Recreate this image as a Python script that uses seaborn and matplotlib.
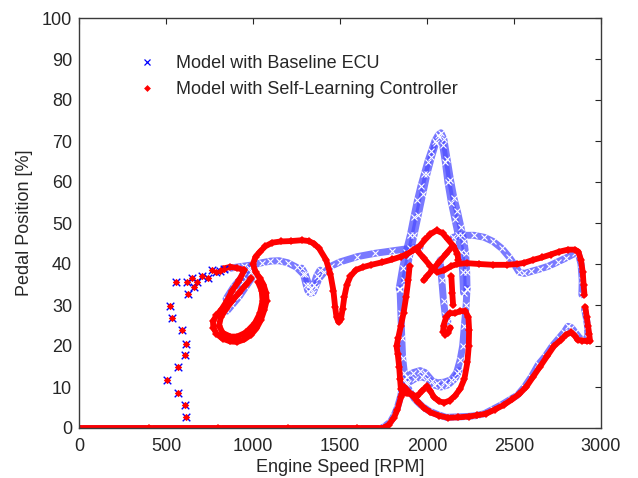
import matplotlib
matplotlib.use("Agg")
import matplotlib.pyplot as plt
from matplotlib.lines import Line2D
import seaborn as sns
import pandas as pd

# ---------------- data ----------------
# sparse launch points shared by both models
launch_rpm = [506, 525, 535, 560, 567, 567, 592, 612, 615, 612, 617, 621, 627, 652, 660,
              679, 708, 740, 765, 785, 810, 833]
launch_pedal = [11.7, 29.7, 26.9, 35.7, 14.8, 8.5, 23.8, 5.5, 20.6, 17.7, 2.6, 35.7, 32.8,
                36.7, 34.4, 35.7, 37.0, 36.6, 38.5, 38.1, 38.4, 38.9]

# Model with Baseline ECU (blue)
b_idle_rpm = [0, 400, 800, 1200, 1600, 1740]
b_idle_pedal = [0, 0, 0, 0, 0, 0]
b_rise_rpm = [1740, 1760, 1790, 1810, 1830, 1850, 1865]
b_rise_pedal = [0, 0.5, 1.5, 3, 5, 8, 12]
b_swirl_rpm = [830, 860, 900, 940, 990]
b_swirl_pedal = [28.5, 31, 33.5, 35.5, 38]
b_swirl2_rpm = [845, 890, 940, 975]
b_swirl2_pedal = [31.5, 34.5, 37, 39]
b_swirl3_rpm = [850, 880, 920, 960, 1000]
b_swirl3_pedal = [28.5, 30, 32, 34.5, 37]
b_cruise_rpm = [850, 900, 950, 1000, 1050, 1100, 1150, 1200, 1250, 1290, 1305, 1315, 1330,
                1345, 1360, 1380, 1410, 1450, 1500, 1600, 1700, 1800, 1900, 1960]
b_cruise_pedal = [38.8, 39.2, 39.5, 39.8, 40.3, 40.7, 40.8, 40.3, 39.2, 37.5, 35, 33.5, 32.8,
                  33, 34.5, 36.5, 38, 39.5, 40.5, 41.8, 42.6, 43.2, 43.8, 44]
b_dip_rpm = [1280, 1300, 1320, 1335, 1350, 1365, 1385]
b_dip_pedal = [39, 37.5, 35, 34, 35, 37, 38.5]
b_spike_rpm = [1840, 1860, 1880, 1904, 1925, 1945, 1965, 1985, 2005, 2025, 2045, 2065, 2080,
               2097, 2116, 2135, 2155, 2174, 2195, 2212, 2222, 2228, 2230]
b_spike_pedal = [34, 39, 43, 47, 51.5, 55.5, 59, 62, 65, 67.5, 70, 71.5, 72,
                 70.4, 65.5, 60.5, 56, 53, 49, 45.5, 42.6, 38, 34]
b_spike2_rpm = [1870, 1900, 1925, 1950, 1975, 2000, 2025, 2050, 2070, 2090, 2105, 2120, 2140,
                2160, 2180, 2195, 2205, 2210]
b_spike2_pedal = [36, 42, 47, 52, 57, 62, 66, 69.5, 71, 69, 65, 60, 55,
                  51, 47, 43, 38, 33]
b_box_rpm = [1845, 1850, 1855, 1860, 1870, 1885, 1920, 1960, 1990, 2030, 2060, 2100, 2140,
             2170, 2190, 2205, 2215, 2225, 2230]
b_box_pedal = [34, 28, 22, 17, 13.5, 12.5, 13.5, 14, 13.5, 11.5, 11, 11.2, 11.8,
               13.5, 16.5, 20, 25, 30, 34]
b_box2_rpm = [1890, 1930, 1970, 2000, 2040, 2080, 2120, 2160, 2185]
b_box2_pedal = [11, 12, 12.5, 12, 10.5, 10, 10.5, 12, 14]
b_inner_rpm = [2075, 2085, 2095, 2105, 2120]
b_inner_pedal = [41, 36, 31, 27.5, 26]
b_hump_rpm = [2150, 2200, 2270, 2330, 2380, 2430, 2470, 2500, 2530, 2560, 2600, 2650, 2700,
              2750, 2800, 2850, 2870, 2885, 2892, 2890]
b_hump_pedal = [46.5, 47, 47, 46.5, 45.5, 43.8, 41.8, 40, 38, 37.7, 38.2, 38.8, 39.5,
                40.5, 41.5, 42.6, 42.5, 40, 36, 32.5]
b_return_rpm = [2905, 2915, 2922, 2925, 2905, 2880, 2850, 2830, 2810, 2790, 2760, 2720, 2680,
                2640, 2600, 2560, 2520, 2480, 2430, 2380, 2330, 2280, 2230, 2170, 2110, 2060,
                2010, 1970, 1930, 1900, 1880]
b_return_pedal = [29, 27, 25, 22, 21.5, 21.8, 23.4, 24.5, 24.8, 23.5, 22, 20, 17.5,
                  15.5, 12.5, 10, 8, 7, 5.7, 4.6, 3.5, 3, 2.8, 2.7, 2.6, 3.3,
                  4.2, 5.4, 7, 9, 11]

# Model with Self-Learning Controller (red)
r_idle_rpm = [0, 400, 800, 1200, 1600, 1750]
r_idle_pedal = [0, 0, 0, 0, 0, 0]
r_rise_rpm = [1750, 1780, 1810, 1830, 1850, 1865]
r_rise_pedal = [0, 0.8, 2.5, 4.5, 7.5, 10]
r_tie_rpm = [830, 870, 910, 950]
r_tie_pedal = [38.9, 39.3, 39, 38.5]
r_circle_rpm = [950, 920, 880, 850, 820, 790, 770, 772, 790, 825, 870, 910, 950, 990, 1020,
                1045, 1065, 1078, 1075, 1060, 1040, 1015, 1000, 1015, 1040, 1070, 1110, 1160,
                1220, 1280, 1320, 1350, 1380, 1420, 1445, 1462, 1472, 1480, 1492, 1505, 1515,
                1525, 1540, 1560, 1590, 1630, 1680, 1740, 1800, 1850, 1880]
r_circle_pedal = [38.5, 36, 33.5, 31, 29, 27.5, 26, 24.5, 23, 21.8, 21.1, 21, 21.6, 22.8, 24.3,
                  26.3, 28.8, 31, 33, 35, 36.5, 38, 40, 41.8, 43, 44.3, 45.2, 45.5,
                  45.6, 45.8, 45.6, 45, 43.8, 41, 37.5, 33.5, 29.5, 27, 25.8, 26.5, 29,
                  32, 35, 37, 38.5, 39.2, 39.8, 40.4, 41.1, 41.8, 42.3]
r_circle2_rpm = [990, 960, 920, 880, 845, 815, 805, 825, 870, 910, 960, 1010, 1040, 1055,
                 1050, 1030]
r_circle2_pedal = [36.5, 35, 33, 31, 29, 27, 25, 23.2, 22.3, 22.3, 23.3, 25.5, 28, 31,
                   33.5, 35.5]
r_peak_rpm = [1880, 1920, 1960, 1990, 2020, 2055, 2090, 2120, 2150, 2175, 2180]
r_peak_pedal = [42.3, 43.3, 44.5, 46, 47.3, 48.2, 47.5, 46, 44.5, 42.5, 41]
r_cross1_rpm = [1940, 1980, 2020, 2060, 2100, 2140, 2175, 2230, 2300, 2380, 2460, 2520, 2560,
                2610, 2660, 2710, 2760, 2810, 2850, 2870, 2885, 2895, 2900, 2905]
r_cross1_pedal = [43.5, 41.5, 39.5, 38, 38.5, 39.5, 40, 40.2, 40, 39.8, 39.8, 40, 40.3,
                  41, 41.6, 42.3, 43, 43.5, 43.5, 43, 41, 38, 35, 32.5]
r_cross2_rpm = [2150, 2110, 2070, 2030, 2000, 1980]
r_cross2_pedal = [44.5, 42.5, 40.5, 38.5, 37, 36]
r_left_rpm = [1900, 1892, 1880, 1865, 1850, 1835, 1825, 1832, 1840, 1845, 1850]
r_left_pedal = [39.5, 36, 32, 28, 25, 22, 20, 18, 15, 12, 9.5]
r_inner_rpm = [2140, 2145, 2150]
r_inner_pedal = [37, 33, 30]
r_hook_rpm = [1856, 1885, 1920, 1945, 1970, 2000, 2020, 2040, 2070, 2100, 2130, 2160, 2190,
              2215, 2232, 2240, 2242, 2238, 2220, 2190, 2160, 2130, 2110, 2095, 2093, 2105,
              2120, 2135]
r_hook_pedal = [8.3, 8.5, 8, 7.8, 9, 10.2, 9, 7.5, 6.5, 6.2, 6.7, 7.8, 9.5,
                12, 16, 20, 24, 27, 28.5, 28.5, 28, 28, 27, 25, 23.5, 22.8,
                23.2, 24.5]
r_return_rpm = [2910, 2918, 2925, 2932, 2937, 2920, 2890, 2865, 2850, 2830, 2800, 2770, 2730,
                2690, 2650, 2610, 2570, 2530, 2490, 2440, 2390, 2340, 2290, 2240, 2180, 2120,
                2070, 2020, 1980, 1945, 1915, 1890, 1870]
r_return_pedal = [29.5, 27, 25, 23, 21.2, 21.2, 21.3, 21.5, 22.5, 23.3, 22.8, 21.5, 20,
                  17.5, 15, 12.5, 10, 8.3, 7, 5.6, 4.5, 3.5, 3.1, 2.8, 2.6, 2.5,
                  3, 3.8, 5, 6.5, 8, 9, 10]

x_ticks = [0, 500, 1000, 1500, 2000, 2500, 3000]
y_ticks = [0, 10, 20, 30, 40, 50, 60, 70, 80, 90, 100]
label_base = "Model with Baseline ECU"
label_learn = "Model with Self-Learning Controller"


def frame(segments):
    parts = []
    for name, rpm, pedal in segments:
        parts.append(pd.DataFrame({"rpm": rpm, "pedal": pedal, "seg": name}))
    return pd.concat(parts, ignore_index=True)


base_df = frame([
    ("idle", b_idle_rpm, b_idle_pedal), ("rise", b_rise_rpm, b_rise_pedal),
    ("swirl", b_swirl_rpm, b_swirl_pedal), ("swirl2", b_swirl2_rpm, b_swirl2_pedal),
    ("swirl3", b_swirl3_rpm, b_swirl3_pedal),
    ("cruise", b_cruise_rpm, b_cruise_pedal), ("dip", b_dip_rpm, b_dip_pedal),
    ("spike", b_spike_rpm, b_spike_pedal), ("spike2", b_spike2_rpm, b_spike2_pedal),
    ("box", b_box_rpm, b_box_pedal), ("box2", b_box2_rpm, b_box2_pedal),
    ("inner", b_inner_rpm, b_inner_pedal),
    ("hump", b_hump_rpm, b_hump_pedal), ("return", b_return_rpm, b_return_pedal),
])
learn_df = frame([
    ("idle", r_idle_rpm, r_idle_pedal), ("rise", r_rise_rpm, r_rise_pedal),
    ("tie", r_tie_rpm, r_tie_pedal), ("circle", r_circle_rpm, r_circle_pedal),
    ("circle2", r_circle2_rpm, r_circle2_pedal), ("peak", r_peak_rpm, r_peak_pedal),
    ("cross1", r_cross1_rpm, r_cross1_pedal), ("cross2", r_cross2_rpm, r_cross2_pedal),
    ("left", r_left_rpm, r_left_pedal), ("inner", r_inner_rpm, r_inner_pedal),
    ("hook", r_hook_rpm, r_hook_pedal), ("return", r_return_rpm, r_return_pedal),
])
launch_df = pd.DataFrame({"rpm": launch_rpm, "pedal": launch_pedal})

# ---------------- style ----------------
sns.set_style("white")
plt.rcParams["font.family"] = ["Liberation Sans", "DejaVu Sans"]
fs = 13
text_col = "#262626"

fig = plt.figure(figsize=(6.38, 4.78), dpi=100)
ax = fig.add_axes([79 / 638, 50 / 478, 522 / 638, 410 / 478])

blue = (0, 0, 1)
red = (1, 0, 0)

sns.lineplot(data=base_df, x="rpm", y="pedal", units="seg", estimator=None, sort=False,
             color=(0.3, 0.3, 1.0), linewidth=5.0, alpha=0.75, ax=ax, legend=False)
sns.lineplot(data=base_df, x="rpm", y="pedal", units="seg", estimator=None, sort=False,
             color=blue, linewidth=0, marker="x", markersize=5, markeredgewidth=0.8,
             ax=ax, legend=False)
sns.scatterplot(data=launch_df, x="rpm", y="pedal", marker="x", color=blue, s=30,
                linewidth=1.0, ax=ax, legend=False, zorder=3)

sns.lineplot(data=learn_df, x="rpm", y="pedal", units="seg", estimator=None, sort=False,
             color=red, linewidth=4.2, ax=ax, legend=False, marker="D", markersize=3.8,
             markeredgewidth=0)
sns.scatterplot(data=launch_df, x="rpm", y="pedal", marker="D", color=red, s=14,
                linewidth=0, ax=ax, legend=False, zorder=4)

ax.set_xlim(0, 3000)
ax.set_ylim(0, 100)
ax.set_xticks(x_ticks)
ax.set_yticks(y_ticks)
ax.set_xlabel("Engine Speed [RPM]", fontsize=fs, color=text_col, labelpad=3)
ax.set_ylabel("Pedal Position [%]", fontsize=fs, color=text_col, labelpad=6)
ax.tick_params(axis="x", pad=7)
ax.tick_params(axis="y", pad=5)
ax.tick_params(direction="in", length=4, width=0.8, top=True, right=True,
               labelsize=fs, colors=text_col)
for sp in ax.spines.values():
    sp.set_visible(True)
    sp.set_color("#3a3a3a")
    sp.set_linewidth(1.0)
    sp.set_zorder(5)

handles = [Line2D([], [], linestyle="none", marker="x", color=blue, markersize=5,
                  markeredgewidth=0.9),
           Line2D([], [], linestyle="none", marker="D", color=red, markersize=3.5,
                  markeredgewidth=0)]
leg = ax.legend(handles, [label_base, label_learn], loc="upper left",
                bbox_to_anchor=(0.1096, 0.91), frameon=False, fontsize=fs,
                handlelength=1.2, handletextpad=1.0, labelspacing=0.5, borderaxespad=0,
                borderpad=0)
for t in leg.get_texts():
    t.set_color(text_col)

fig.savefig("out.png", dpi=100)
